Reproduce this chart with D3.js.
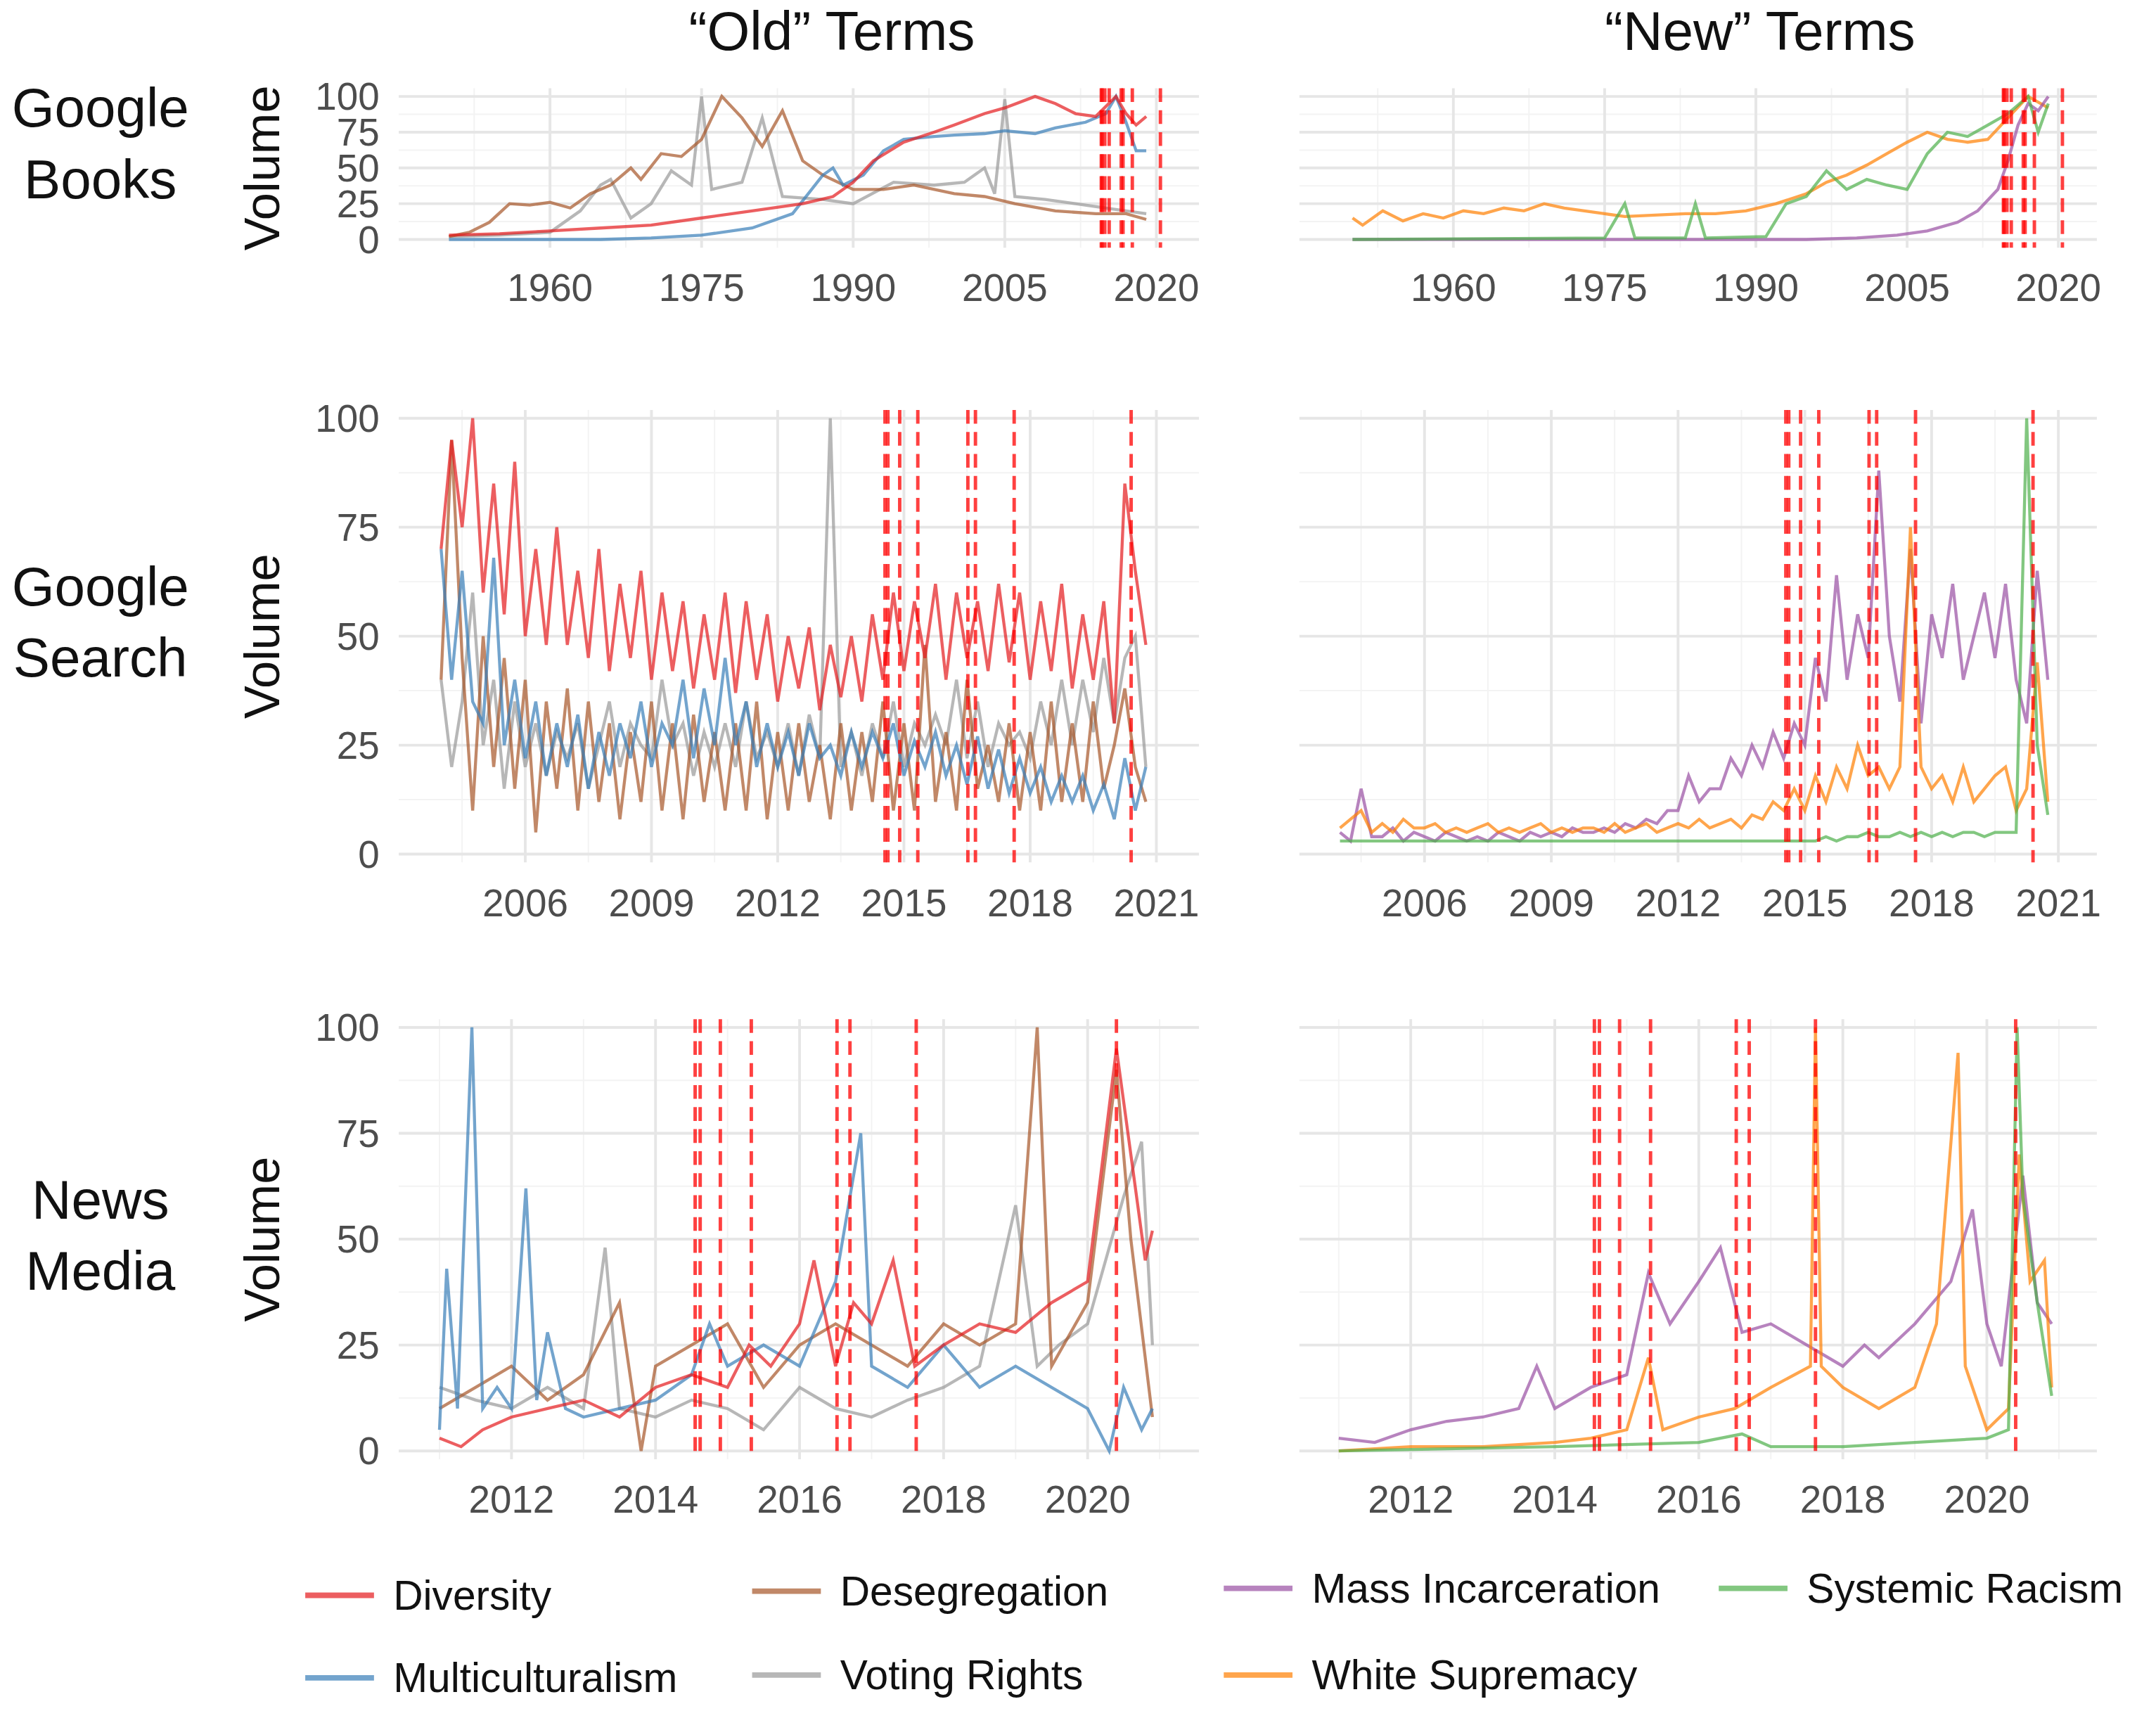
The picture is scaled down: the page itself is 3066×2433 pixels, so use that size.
<!DOCTYPE html>
<html>
<head>
<meta charset="utf-8">
<title>old vs new terms</title>
<script src="https://d3js.org/d3.v7.min.js"></script>
<style>
  body { margin: 0; background: #fff; }
  text { font-family: "Liberation Sans", Arial, sans-serif; }
</style>
</head>
<body>
<script>
// ---- data ----
var events = [2014.55, 2014.62, 2014.9, 2015.33, 2016.52, 2016.7, 2017.62, 2020.4];

var booksDiversity = [[1950,3],[1955,4],[1960,6],[1965,8],[1970,10],[1975,15],[1980,20],[1985,25],[1988,30],[1990,40],[1992,55],[1995,68],[1998,75],[2000,80],[2003,88],[2005,92],[2008,100],[2010,95],[2012,88],[2014,86],[2016,100],[2017,88],[2018,80],[2019,86]];
var booksMulti = [[1950,0],[1965,0],[1970,1],[1975,3],[1980,8],[1984,18],[1987,45],[1988,50],[1989,38],[1991,45],[1993,62],[1995,70],[1998,72],[2000,73],[2003,74],[2005,76],[2008,74],[2010,78],[2013,82],[2015,88],[2016,100],[2017,82],[2018,62],[2019,62]];
var booksDeseg = [[1950,2],[1952,5],[1954,12],[1956,25],[1958,24],[1960,26],[1962,22],[1964,32],[1966,38],[1968,50],[1969,42],[1971,60],[1973,58],[1975,70],[1977,100],[1979,85],[1981,65],[1983,90],[1985,55],[1987,45],[1990,35],[1993,35],[1996,38],[2000,32],[2003,30],[2006,25],[2010,20],[2014,18],[2017,18],[2019,14]];
var booksVoting = [[1950,2],[1955,3],[1960,5],[1963,20],[1965,38],[1966,42],[1968,15],[1970,25],[1972,48],[1974,38],[1975,100],[1976,35],[1979,40],[1981,85],[1983,30],[1987,28],[1990,25],[1994,40],[1998,38],[2001,40],[2003,50],[2004,32],[2005,98],[2006,30],[2009,28],[2012,25],[2015,22],[2017,20],[2019,18]];

var booksWhite = [[1950,15],[1951,10],[1953,20],[1955,13],[1957,18],[1959,15],[1961,20],[1963,18],[1965,22],[1967,20],[1969,25],[1971,22],[1973,20],[1975,18],[1977,16],[1980,17],[1983,18],[1986,18],[1989,20],[1992,25],[1995,32],[1997,40],[1999,45],[2001,52],[2003,60],[2005,68],[2007,75],[2009,70],[2011,68],[2013,70],[2015,85],[2017,100],[2019,92]];
var booksMass = [[1950,0],[1990,0],[1995,0],[2000,1],[2004,3],[2007,6],[2010,12],[2012,20],[2014,35],[2015,55],[2016,80],[2017,95],[2018,90],[2019,100]];
var booksSystemic = [[1950,0],[1975,1],[1977,25],[1978,1],[1983,1],[1984,25],[1985,1],[1991,2],[1993,25],[1995,30],[1997,48],[1999,35],[2001,42],[2003,38],[2005,35],[2007,60],[2009,75],[2011,72],[2013,80],[2015,88],[2017,100],[2018,75],[2019,95]];

// google search, quarterly from 2004.0
var searchStart = 2004;
var searchDiversity = [70,95,75,100, 60,85,55,90, 50,70,48,75, 48,65,45,70, 42,62,45,65, 40,60,42,58, 38,55,40,60, 37,58,40,55, 35,50,38,52, 33,48,36,50, 35,55,40,60, 42,58,45,62, 40,60,45,58, 42,62,44,60, 40,58,42,62, 38,55,40,58, 30,85,65,48];
var searchMulti = [70,40,65,35, 30,68,25,40, 22,35,18,30, 20,32,15,28, 18,30,22,35, 20,30,25,40, 22,38,25,45, 25,35,20,30, 20,28,18,30, 22,25,18,28, 20,28,22,30, 18,26,20,28, 18,25,16,27, 15,24,14,22, 14,20,12,18, 12,18,10,16, 8,22,10,20];
var searchDeseg = [40,95,45,10, 50,20,45,15, 40,5,35,15, 38,10,35,12, 30,8,28,12, 35,10,30,8, 32,12,28,10, 30,10,35,8, 28,10,30,12, 25,8,30,10, 28,12,35,10, 30,10,48,12, 28,10,40,15, 25,12,30,10, 28,10,35,12, 30,12,35,15, 25,38,20,12];
var searchVoting = [40,20,35,60, 25,40,15,35, 20,30,18,28, 22,30,15,25, 35,20,30,25, 22,40,25,30, 18,28,20,30, 20,35,22,28, 20,30,18,32, 22,100,20,28, 18,30,22,35, 20,30,25,32, 25,40,22,35, 20,30,25,28, 22,35,25,40, 25,40,28,45, 30,45,50,20];
var searchMass = [5,3,15,4, 4,6,3,5, 4,3,5,4, 3,4,3,5, 4,3,5,4, 5,4,6,5, 5,6,5,7, 6,8,7,10, 10,18,12,15, 15,22,18,25, 20,28,22,30, 25,45,35,64, 40,55,45,88, 50,35,70,30, 55,45,62,40, 50,60,45,62, 40,30,65,40];
var searchWhite = [6,8,10,5, 7,5,8,6, 6,7,5,6, 5,6,7,5, 6,5,6,7, 5,6,5,6, 6,5,7,5, 6,7,5,6, 7,6,8,6, 7,8,6,9, 8,12,10,15, 10,18,12,20, 15,25,18,20, 15,20,75,20, 15,18,12,20, 12,15,18,20, 10,15,44,12];
var searchSystemic = [3,3,3,3, 3,3,3,3, 3,3,3,3, 3,3,3,3, 3,3,3,3, 3,3,3,3, 3,3,3,3, 3,3,3,3, 3,3,3,3, 3,3,3,3, 3,3,3,3, 3,3,4,3, 4,4,5,4, 4,5,4,5, 4,5,4,5, 5,4,5,5, 5,100,25,9];

var newsDiversity = [[2011,3],[2011.3,1],[2011.6,5],[2012,8],[2012.5,10],[2013,12],[2013.5,8],[2014,15],[2014.5,18],[2015,15],[2015.3,25],[2015.6,20],[2016,30],[2016.2,45],[2016.5,20],[2016.75,35],[2017,30],[2017.3,45],[2017.6,20],[2018,25],[2018.5,30],[2019,28],[2019.5,35],[2020,40],[2020.4,95],[2020.6,70],[2020.8,45],[2020.9,52]];
var newsMulti = [[2011,5],[2011.1,43],[2011.25,10],[2011.45,100],[2011.6,10],[2011.8,15],[2012,10],[2012.2,62],[2012.35,12],[2012.5,28],[2012.75,10],[2013,8],[2013.5,10],[2014,12],[2014.5,18],[2014.75,30],[2015,20],[2015.5,25],[2016,20],[2016.5,40],[2016.85,75],[2017,20],[2017.5,15],[2018,25],[2018.5,15],[2019,20],[2019.5,15],[2020,10],[2020.3,0],[2020.5,15],[2020.75,5],[2020.9,10]];
var newsDeseg = [[2011,10],[2011.5,15],[2012,20],[2012.5,12],[2013,18],[2013.5,35],[2013.8,0],[2014,20],[2014.5,25],[2015,30],[2015.5,15],[2016,25],[2016.5,30],[2017,25],[2017.5,20],[2018,30],[2018.5,25],[2019,30],[2019.3,100],[2019.5,20],[2020,35],[2020.4,90],[2020.6,50],[2020.9,8]];
var newsVoting = [[2011,15],[2011.5,12],[2012,10],[2012.5,15],[2013,10],[2013.3,48],[2013.5,10],[2014,8],[2014.5,12],[2015,10],[2015.5,5],[2016,15],[2016.5,10],[2017,8],[2017.5,12],[2018,15],[2018.5,20],[2019,58],[2019.3,20],[2019.6,25],[2020,30],[2020.5,60],[2020.75,73],[2020.9,25]];
var newsMass = [[2011,3],[2011.5,2],[2012,5],[2012.5,7],[2013,8],[2013.5,10],[2013.75,20],[2014,10],[2014.5,15],[2015,18],[2015.3,42],[2015.6,30],[2016,40],[2016.3,48],[2016.6,28],[2017,30],[2017.5,25],[2018,20],[2018.3,25],[2018.5,22],[2019,30],[2019.5,40],[2019.8,57],[2020,30],[2020.2,20],[2020.5,65],[2020.7,35],[2020.9,30]];
var newsWhite = [[2011,0],[2012,1],[2013,1],[2014,2],[2014.5,3],[2015,5],[2015.3,22],[2015.5,5],[2016,8],[2016.5,10],[2017,15],[2017.55,20],[2017.62,100],[2017.7,20],[2018,15],[2018.5,10],[2019,15],[2019.3,30],[2019.6,94],[2019.7,20],[2020,5],[2020.3,10],[2020.45,70],[2020.6,40],[2020.8,45],[2020.9,15]];
var newsSystemic = [[2011,0],[2014,1],[2016,2],[2016.6,4],[2017,1],[2018,1],[2019,2],[2020,3],[2020.3,5],[2020.42,100],[2020.5,60],[2020.7,35],[2020.9,13]];

var booksTicks = [1960, 1975, 1990, 2005, 2020];
var searchTicks = [2006, 2009, 2012, 2015, 2018, 2021];
var newsTicks = [2012, 2014, 2016, 2018, 2020];
var yTicks = [0, 25, 50, 75, 100];

var colors = {
  Diversity: "#E41A1C", Multiculturalism: "#377EB8", Desegregation: "#A65628",
  "Voting Rights": "#999999", "Mass Incarceration": "#984EA3",
  "White Supremacy": "#FF7F00", "Systemic Racism": "#4DAF4A"
};

function quarterly(vals) {
  return vals.map(function(v, i) { return [searchStart + i / 4, v]; });
}

var svg = d3.select("body").append("svg")
  .attr("width", 3066).attr("height", 2433)
  .attr("viewBox", "0 0 1568 1244");

function drawPanel(p) {
  var x = d3.scaleLinear().domain(p.xd).range(p.xr);
  var y = d3.scaleLinear().domain([0, 100]).range(p.yr);
  var g = svg.append("g");
  var xt = p.ticks, step = xt[1] - xt[0];
  var minors = [];
  for (var t = xt[0] - step / 2; t <= p.xlim[1]; t += step) if (t >= p.xlim[0]) minors.push(t);
  var top = p.yr[1] - 6, bot = p.yr[0] + 6;
  g.selectAll(".xmn").data(minors).enter().append("line")
    .attr("x1", x).attr("x2", x).attr("y1", top).attr("y2", bot)
    .attr("stroke", "#f3f3f3").attr("stroke-width", 1);
  g.selectAll(".ymn").data([12.5, 37.5, 62.5, 87.5]).enter().append("line")
    .attr("x1", x(p.xlim[0])).attr("x2", x(p.xlim[1])).attr("y1", y).attr("y2", y)
    .attr("stroke", "#f3f3f3").attr("stroke-width", 1);
  g.selectAll(".xmj").data(xt).enter().append("line")
    .attr("x1", x).attr("x2", x).attr("y1", top).attr("y2", bot)
    .attr("stroke", "#e6e6e6").attr("stroke-width", 2);
  g.selectAll(".ymj").data(yTicks).enter().append("line")
    .attr("x1", x(p.xlim[0])).attr("x2", x(p.xlim[1])).attr("y1", y).attr("y2", y)
    .attr("stroke", "#e6e6e6").attr("stroke-width", 2);

  var line = d3.line().x(function(d) { return x(d[0]); }).y(function(d) { return y(d[1]); });
  p.series.forEach(function(s) {
    g.append("path").datum(s.data).attr("d", line)
      .attr("fill", "none").attr("stroke", colors[s.name])
      .attr("stroke-width", 2.2).attr("stroke-opacity", 0.7);
  });
  g.selectAll(".ev").data(events).enter().append("line")
    .attr("x1", x).attr("x2", x).attr("y1", top).attr("y2", bot)
    .attr("stroke", "#FF0000").attr("stroke-opacity", 0.75)
    .attr("stroke-width", 2.5).attr("stroke-dasharray", "10,6");

  g.selectAll(".xl").data(xt).enter().append("text")
    .attr("x", x).attr("y", p.yr[0] + 45).attr("text-anchor", "middle")
    .attr("font-size", 28).attr("fill", "#4d4d4d").text(function(d) { return d; });
  if (p.ylabels) {
    g.selectAll(".yl").data(yTicks).enter().append("text")
      .attr("x", 276).attr("y", y).attr("dy", "0.35em").attr("text-anchor", "end")
      .attr("font-size", 28).attr("fill", "#4d4d4d").text(function(d) { return d; });
    svg.append("text")
      .attr("transform", "translate(203," + (p.yr[0] + p.yr[1]) / 2 + ") rotate(-90)")
      .attr("text-anchor", "middle").attr("font-size", 36).attr("fill", "#111")
      .text("Volume");
  }
}

var oldR = [290, 872], newR = [945, 1525];
// Books
var bxOld = d3.scaleLinear().domain([1960, 2020]).range([400, 841]);
var bxNew = d3.scaleLinear().domain([1960, 2020]).range([1057, 1497]);
drawPanel({ xd: [1960, 2020], xr: [400, 841], xlim: [bxOld.invert(oldR[0]), bxOld.invert(oldR[1])], yr: [174, 70], ticks: booksTicks, ylabels: true,
  series: [{name: "Voting Rights", data: booksVoting}, {name: "Desegregation", data: booksDeseg}, {name: "Multiculturalism", data: booksMulti}, {name: "Diversity", data: booksDiversity}] });
drawPanel({ xd: [1960, 2020], xr: [1057, 1497], xlim: [bxNew.invert(newR[0]), bxNew.invert(newR[1])], yr: [174, 70], ticks: booksTicks,
  series: [{name: "White Supremacy", data: booksWhite}, {name: "Mass Incarceration", data: booksMass}, {name: "Systemic Racism", data: booksSystemic}] });
// Search
var sxOld = d3.scaleLinear().domain([2006, 2021]).range([382, 841]);
var sxNew = d3.scaleLinear().domain([2006, 2021]).range([1036, 1497]);
drawPanel({ xd: [2006, 2021], xr: [382, 841], xlim: [sxOld.invert(oldR[0]), sxOld.invert(oldR[1])], yr: [621, 304], ticks: searchTicks, ylabels: true,
  series: [{name: "Voting Rights", data: quarterly(searchVoting)}, {name: "Desegregation", data: quarterly(searchDeseg)}, {name: "Multiculturalism", data: quarterly(searchMulti)}, {name: "Diversity", data: quarterly(searchDiversity)}] });
drawPanel({ xd: [2006, 2021], xr: [1036, 1497], xlim: [sxNew.invert(newR[0]), sxNew.invert(newR[1])], yr: [621, 304], ticks: searchTicks,
  series: [{name: "Mass Incarceration", data: quarterly(searchMass)}, {name: "White Supremacy", data: quarterly(searchWhite)}, {name: "Systemic Racism", data: quarterly(searchSystemic)}] });
// News
var nxOld = d3.scaleLinear().domain([2012, 2020]).range([372, 791]);
var nxNew = d3.scaleLinear().domain([2012, 2020]).range([1026, 1445]);
drawPanel({ xd: [2012, 2020], xr: [372, 791], xlim: [nxOld.invert(oldR[0]), nxOld.invert(oldR[1])], yr: [1055, 747], ticks: newsTicks, ylabels: true,
  series: [{name: "Voting Rights", data: newsVoting}, {name: "Desegregation", data: newsDeseg}, {name: "Multiculturalism", data: newsMulti}, {name: "Diversity", data: newsDiversity}] });
drawPanel({ xd: [2012, 2020], xr: [1026, 1445], xlim: [nxNew.invert(newR[0]), nxNew.invert(newR[1])], yr: [1055, 747], ticks: newsTicks,
  series: [{name: "Mass Incarceration", data: newsMass}, {name: "White Supremacy", data: newsWhite}, {name: "Systemic Racism", data: newsSystemic}] });

// titles
svg.append("text").attr("x", 605).attr("y", 36).attr("text-anchor", "middle").attr("font-size", 40).attr("fill", "#111").text("\u201COld\u201D Terms");
svg.append("text").attr("x", 1280).attr("y", 36).attr("text-anchor", "middle").attr("font-size", 40).attr("fill", "#111").text("\u201CNew\u201D Terms");
var rowLabels = [["Google", "Books", 92], ["Google", "Search", 440], ["News", "Media", 886]];
rowLabels.forEach(function(r) {
  var t = svg.append("text").attr("text-anchor", "middle").attr("font-size", 40).attr("fill", "#111");
  t.append("tspan").attr("x", 73).attr("y", r[2]).text(r[0]);
  t.append("tspan").attr("x", 73).attr("y", r[2] + 52).text(r[1]);
});

// legend
var legend = [["Diversity", 222, 1160], ["Desegregation", 547, 1157], ["Mass Incarceration", 890, 1155], ["Systemic Racism", 1250, 1155],
              ["Multiculturalism", 222, 1220], ["Voting Rights", 547, 1218], ["White Supremacy", 890, 1218]];
legend.forEach(function(l) {
  svg.append("line").attr("x1", l[1]).attr("x2", l[1] + 50).attr("y1", l[2]).attr("y2", l[2])
    .attr("stroke", colors[l[0]]).attr("stroke-opacity", 0.7).attr("stroke-width", 4);
  svg.append("text").attr("x", l[1] + 64).attr("y", l[2]).attr("dy", "0.35em")
    .attr("font-size", 30).attr("fill", "#111").text(l[0]);
});
</script>
</body>
</html>
